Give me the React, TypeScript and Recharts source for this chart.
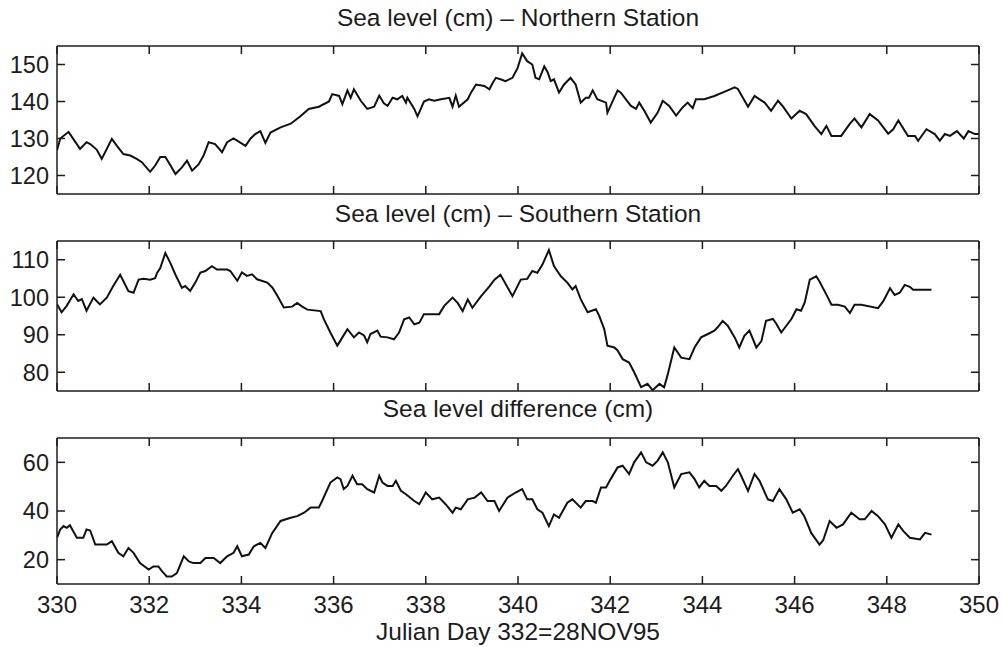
import { LineChart, Line, XAxis, YAxis } from 'recharts'

const FONT = '"Liberation Sans", Arial, Helvetica, sans-serif'
const INK = '#1c1c1c'

const dayTicks = [330, 332, 334, 336, 338, 340, 342, 344, 346, 348, 350]

// Northern station, sea level (cm)
const northDay = [
  330.0, 330.07, 330.25, 330.5, 330.64, 330.72, 330.86, 330.97, 331.19, 331.3, 331.44, 331.59, 331.73, 331.84,
  332.02, 332.13, 332.24, 332.35, 332.46, 332.57, 332.71, 332.82, 332.93, 333.07, 333.18, 333.29, 333.43, 333.58,
  333.69, 333.83, 334.09, 334.2, 334.3, 334.41, 334.52, 334.63, 334.85, 335.07, 335.28, 335.46, 335.68, 335.9,
  335.97, 336.12, 336.19, 336.3, 336.37, 336.44, 336.59, 336.73, 336.88, 336.99, 337.09, 337.17, 337.28, 337.38,
  337.49, 337.57, 337.6, 337.75, 337.82, 337.96, 338.07, 338.18, 338.33, 338.51, 338.58, 338.65, 338.72, 338.91,
  338.98, 339.09, 339.27, 339.38, 339.45, 339.52, 339.62, 339.73, 339.88, 339.99, 340.09, 340.2, 340.31, 340.38,
  340.46, 340.57, 340.64, 340.71, 340.78, 340.89, 341.0, 341.14, 341.25, 341.36, 341.47, 341.54, 341.62, 341.72,
  341.91, 341.94, 342.16, 342.23, 342.45, 342.56, 342.63, 342.74, 342.88, 343.03, 343.14, 343.28, 343.43, 343.57,
  343.68, 343.79, 343.86, 344.04, 344.26, 344.55, 344.7, 344.77, 344.99, 345.13, 345.35, 345.49, 345.64, 345.75,
  345.93, 346.11, 346.25, 346.43, 346.58, 346.69, 346.8, 347.01, 347.2, 347.3, 347.45, 347.63, 347.81, 348.03,
  348.14, 348.25, 348.46, 348.61, 348.68, 348.86, 349.04, 349.15, 349.26, 349.37, 349.52, 349.67, 349.77, 349.91,
  350.0,
]
const northLevel = [
  126.8, 130, 131.8, 127.2, 129, 128.5, 127, 124.5, 129.9, 128, 125.8, 125.4, 124.5, 123.6,
  121, 122.7, 125, 125, 122.8, 120.4, 122.2, 124, 121.3, 123, 125.4, 129, 128.5, 126.3,
  129, 130, 128, 130, 131.2, 132, 128.8, 131.6, 133, 134, 136, 138, 138.6, 140,
  142, 141.5, 139.3, 143, 141, 143.3, 140.2, 138, 138.6, 141.6, 139.5, 138.8, 141, 140.6,
  141.5, 139.7, 141, 138, 136, 140, 140.6, 140.2, 140.6, 141, 138.6, 141.6, 138.6, 140.6,
  142.4, 144.6, 144.2, 143.3, 145, 146.4, 146, 145.5, 146.4, 149, 153, 150.9, 150, 146.4,
  146, 149.5, 148, 145.5, 146, 142.4, 144.6, 146.4, 144.6, 139.7, 141, 141, 143, 140.6,
  139.7, 137, 143, 142.4, 138.8, 138, 139.7, 137.5, 134.3, 137, 140.2, 138.8, 136.2, 138.4,
  139.7, 138.2, 140.6, 140.6, 141.5, 143, 143.8, 143.4, 138.6, 141.5, 139.7, 137.5, 140.2, 138.6,
  135.4, 137.5, 136.6, 133.4, 131.2, 133.4, 130.7, 130.7, 134, 135.4, 133, 136.6, 134.9, 131.3,
  132.5, 134.9, 130.7, 130.7, 129.4, 132.5, 131.2, 129.4, 131.2, 130.7, 132, 130, 132, 131.2,
  131.2,
]

// Southern station, sea level (cm)
const southDay = [
  330.0, 330.1, 330.21, 330.36, 330.46, 330.54, 330.64, 330.79, 330.86, 330.93, 331.08, 331.22, 331.37, 331.55,
  331.66, 331.77, 331.88, 332.02, 332.13, 332.17, 332.24, 332.35, 332.46, 332.57, 332.71, 332.78, 332.89, 333.0,
  333.11, 333.22, 333.36, 333.47, 333.69, 333.76, 333.91, 334.01, 334.12, 334.23, 334.34, 334.56, 334.67, 334.78,
  334.92, 335.1, 335.21, 335.32, 335.43, 335.72, 335.79, 335.93, 336.08, 336.19, 336.3, 336.44, 336.55, 336.66,
  336.73, 336.8, 336.95, 337.02, 337.17, 337.31, 337.42, 337.53, 337.64, 337.75, 337.86, 337.96, 338.11, 338.29,
  338.4, 338.58, 338.69, 338.8, 338.91, 339.01, 339.2, 339.38, 339.49, 339.62, 339.88, 340.06, 340.2, 340.31,
  340.42, 340.53, 340.67, 340.78, 340.93, 341.07, 341.18, 341.25, 341.36, 341.51, 341.69, 341.76, 341.87, 341.94,
  342.09, 342.16, 342.27, 342.41, 342.52, 342.67, 342.81, 342.92, 343.07, 343.17, 343.25, 343.39, 343.54, 343.72,
  343.83, 343.97, 344.12, 344.26, 344.33, 344.44, 344.55, 344.7, 344.8, 344.91, 345.02, 345.17, 345.28, 345.38,
  345.53, 345.6, 345.71, 345.82, 345.93, 346.04, 346.14, 346.22, 346.33, 346.47, 346.54, 346.69, 346.8, 346.94,
  347.09, 347.2, 347.3, 347.45, 347.81, 347.92, 348.07, 348.17, 348.28, 348.39, 348.5, 348.57, 348.75, 348.97,
]
const southLevel = [
  98.1, 96, 97.7, 100.8, 99, 99.5, 96.4, 99.9, 99, 98.1, 99.9, 103, 106, 101.6,
  101.2, 104.7, 104.9, 104.7, 105.1, 106.5, 107.8, 111.8, 109.1, 106, 102.5, 103, 101.7, 103.9,
  106.6, 107, 108.3, 107.4, 107.4, 107, 104.4, 106.6, 105.7, 106.1, 104.8, 103.9, 102.6, 100.4,
  97.3, 97.5, 98.5, 97.5, 96.7, 96.3, 94.1, 90.6, 87.1, 89.3, 91.5, 89.3, 90.6, 89.8,
  88, 90.2, 91.1, 89.5, 89.3, 88.8, 90.6, 94.1, 94.6, 92.8, 93.2, 95.5, 95.5, 95.5,
  97.7, 99.9, 98.5, 96.3, 99.4, 97.2, 100.3, 102.9, 104.7, 106, 100.3, 104.7, 104.9, 107,
  106.5, 108.7, 112.6, 108.3, 105.6, 103.9, 102.1, 103, 99.5, 96, 96.8, 95.1, 91.5, 87.1,
  86.6, 85.8, 83.5, 82.6, 80, 76, 76.9, 75.2, 76.9, 76, 79.5, 86.6, 83.9, 83.5,
  86.6, 89.3, 90.2, 91.1, 92, 93.7, 92.4, 89.3, 86.6, 89.7, 91.1, 86.6, 88.3, 93.7,
  94.2, 93, 90.6, 92.4, 94.2, 96.8, 96.4, 98.6, 104.7, 105.6, 104.2, 100.7, 98, 98,
  97.5, 95.8, 98, 98, 97.1, 98.9, 102.4, 100.6, 101.2, 103.3, 102.8, 102, 102, 102,
]

// Sea level difference (cm)
const diffDay = [
  330.0, 330.07, 330.14, 330.21, 330.28, 330.43, 330.57, 330.64, 330.72, 330.83, 330.93, 331.08, 331.19, 331.33,
  331.44, 331.55, 331.66, 331.8, 331.99, 332.09, 332.2, 332.28, 332.38, 332.49, 332.6, 332.75, 332.86, 332.96,
  333.11, 333.22, 333.4, 333.54, 333.69, 333.83, 333.91, 334.01, 334.16, 334.27, 334.41, 334.52, 334.67, 334.85,
  335.07, 335.21, 335.36, 335.5, 335.68, 335.75, 335.93, 336.08, 336.15, 336.22, 336.3, 336.41, 336.51, 336.62,
  336.73, 336.88, 336.99, 337.06, 337.17, 337.28, 337.35, 337.46, 337.57, 337.75, 337.86, 338.0, 338.14, 338.29,
  338.43, 338.58, 338.65, 338.76, 338.91, 339.06, 339.2, 339.34, 339.49, 339.59, 339.77, 339.95, 340.09, 340.2,
  340.31, 340.42, 340.53, 340.67, 340.78, 340.89, 341.07, 341.18, 341.36, 341.47, 341.62, 341.69, 341.8, 341.91,
  342.01, 342.16, 342.27, 342.41, 342.52, 342.67, 342.78, 342.92, 343.03, 343.14, 343.25, 343.39, 343.54, 343.72,
  343.83, 343.93, 344.04, 344.15, 344.3, 344.41, 344.51, 344.66, 344.77, 344.84, 344.99, 345.13, 345.24, 345.42,
  345.53, 345.67, 345.82, 345.96, 346.11, 346.21, 346.36, 346.54, 346.62, 346.76, 346.91, 347.05, 347.23, 347.41,
  347.52, 347.67, 347.81, 347.96, 348.1, 348.25, 348.36, 348.5, 348.72, 348.83, 348.97,
]
const diffLevel = [
  29, 32.4, 33.8, 33.1, 34.1, 29, 29, 32.4, 32, 26.2, 26.2, 26.2, 27.6, 22.8,
  21.4, 24.8, 22.8, 18.6, 15.9, 17.2, 17.2, 15.2, 13.1, 13.1, 14.5, 21.4, 19.3, 18.6,
  18.6, 20.7, 20.7, 18.6, 21.4, 22.8, 25.5, 21.4, 22.1, 25.5, 26.9, 24.8, 31, 35.9,
  37.2, 37.9, 39.3, 41.4, 41.4, 44.1, 51.7, 53.8, 53.1, 49, 50.3, 54.5, 51, 51,
  49, 47.6, 54.5, 51.7, 50.3, 50.3, 52.4, 48.3, 46.9, 44.1, 42.8, 47.6, 44.8, 45.5,
  42.8, 39.3, 41.4, 40.7, 44.8, 45.5, 47.6, 44.1, 44.1, 40, 45.5, 47.6, 49, 44.8,
  44.8, 40.7, 39.3, 33.8, 38.6, 37.2, 43.4, 44.8, 41.4, 44.1, 44.1, 43.4, 49.7, 49.7,
  53.1, 57.9, 58.6, 55.2, 60, 64.1, 60, 58.6, 60.7, 64.1, 60, 49.7, 55.2, 55.9,
  53.1, 49.7, 52.4, 50.3, 50.3, 48.3, 50.3, 54.5, 57.2, 54.5, 48.3, 55.2, 52.4, 44.8,
  44.1, 49, 44.8, 39.3, 40.7, 37.9, 31, 26.2, 28, 35.9, 33.1, 34.5, 39.3, 36.6,
  36.6, 40, 37.9, 34.5, 29, 34.5, 31.7, 29, 28.3, 31, 30.3,
]

const blank = () => ''

interface PanelProps {
  days: number[]
  values: number[]
  yDomain: [number, number]
  yTicks: number[]
  top: number
  plotHeight: number
  showDays?: boolean
}

function Panel({ days, values, yDomain, yTicks, top, plotHeight, showDays }: PanelProps) {
  const data = days.map((d, i) => ({ day: d, level: values[i] }))
  const bottomHeight = showDays ? 40 : 10
  const axisCommon = { stroke: INK, strokeWidth: 1.5, tickSize: -8, interval: 0 as const }
  return (
    <div style={{ position: 'absolute', left: 0, top }}>
      <LineChart width={1002} height={10 + plotHeight + bottomHeight} data={data}
        margin={{ top: 0, right: 0, bottom: 0, left: 0 }}>
        <XAxis xAxisId="b" dataKey="day" type="number" domain={[330, 350]} ticks={dayTicks} allowDataOverflow
          height={bottomHeight} tickMargin={20} {...axisCommon}
          tickFormatter={showDays ? undefined : blank}
          tick={{ fill: INK, fontSize: 24, fontFamily: FONT }} />
        <XAxis xAxisId="t" orientation="top" dataKey="day" type="number" domain={[330, 350]} ticks={dayTicks}
          allowDataOverflow height={10} {...axisCommon} tickFormatter={blank} />
        <YAxis yAxisId="l" type="number" domain={yDomain} ticks={yTicks} allowDataOverflow width={57}
          tickMargin={16} {...axisCommon} tick={{ fill: INK, fontSize: 23.5, fontFamily: FONT }} />
        <YAxis yAxisId="r" orientation="right" type="number" domain={yDomain} ticks={yTicks} allowDataOverflow
          width={23} {...axisCommon} tickFormatter={blank} />
        <Line xAxisId="b" yAxisId="l" dataKey="level" type="linear" stroke="#111" strokeWidth={2}
          dot={false} isAnimationActive={false} />
      </LineChart>
    </div>
  )
}

export default function App() {
  const titleStyle = { fontFamily: FONT, fontSize: 24.5, fill: INK }
  return (
    <div style={{ position: 'absolute', left: 0, top: 0, width: 1002, height: 647, background: '#fff' }}>
      <Panel days={northDay} values={northLevel} yDomain={[115, 155]} yTicks={[120, 130, 140, 150]}
        top={36} plotHeight={148} />
      <Panel days={southDay} values={southLevel} yDomain={[75, 115]} yTicks={[80, 90, 100, 110]}
        top={231} plotHeight={150} />
      <Panel days={diffDay} values={diffLevel} yDomain={[10, 70]} yTicks={[20, 40, 60]}
        top={428} plotHeight={146} showDays />
      <svg width={1002} height={647} style={{ position: 'absolute', left: 0, top: 0, pointerEvents: 'none' }}>
        <text x={518} y={26} textAnchor="middle" style={titleStyle}>Sea level (cm) – Northern Station</text>
        <text x={518} y={222} textAnchor="middle" style={titleStyle}>Sea level (cm) – Southern Station</text>
        <text x={518} y={417} textAnchor="middle" style={titleStyle}>Sea level difference (cm)</text>
        <text x={518} y={640} textAnchor="middle" style={titleStyle}>Julian Day 332=28NOV95</text>
      </svg>
    </div>
  )
}
